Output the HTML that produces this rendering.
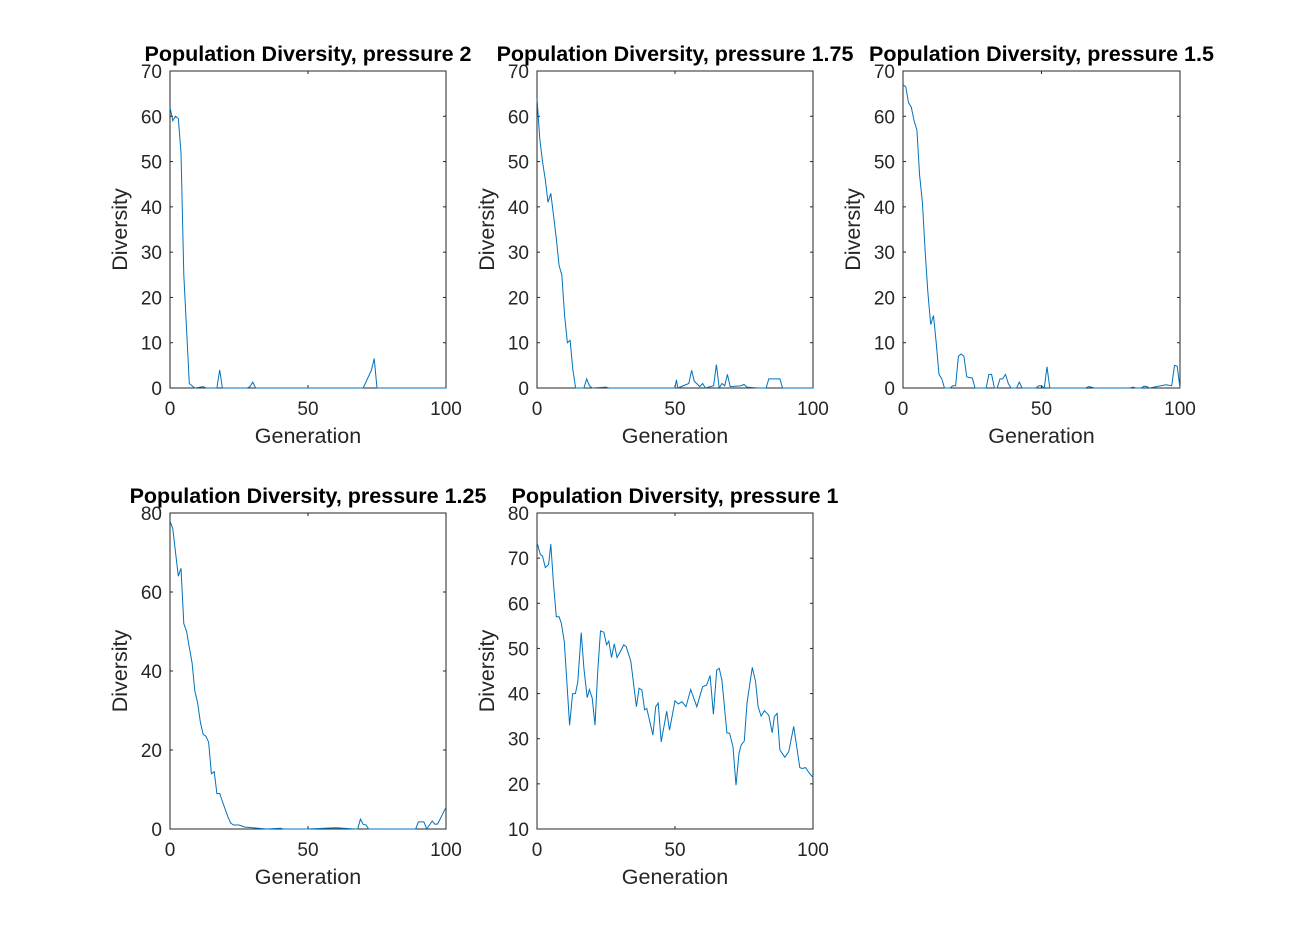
<!DOCTYPE html>
<html><head><meta charset="utf-8"><style>
html,body{margin:0;padding:0;background:#fff}
svg{display:block}
text{font-family:"Liberation Sans",Arial,sans-serif;fill:#262626}
.tk{font-size:19px}
.lab{font-size:21.5px}
.ttl{font-size:21.5px;font-weight:bold;fill:#000}
</style></head><body>
<svg id="fig" width="1306" height="932" viewBox="0 0 1306 932" xmlns="http://www.w3.org/2000/svg"></svg>
<script>
const gen2=[0,1,2,3,4,5,7,9,12,13,17,18,19,28,29,30,31,60,70,73,74,75,100];
const div2=[62,59,60,59.5,52,25,1,0,0.3,0,0,4,0,0,0.3,1.3,0,0,0,4,6.5,0,0];
const gen175=[0,1,2,3,4,5,6,7,8,9,10,11,12,13,14,17,18,19,20,25,26,50,50.5,51,55,56,57,59,60,61,64,65,66,67,68,69,70,74,75,76,80,83,84,88,89,100];
const div175=[64,55,50,46,41,43,38,33,27,25,16,10,10.5,4,0,0,2,0.5,0,0.2,0,0,1.8,0,1,3.9,1.5,0.3,1,0,0.5,5.2,0,1,0.5,3,0.3,0.5,0.8,0.2,0,0,2,2,0,0];
const gen15=[0,1,2,3,4,5,6,7,8,9,10,11,12,13,14,15,17,18,19,20,21,22,23,24,25,26,30,31,32,33,34,35,36,37,38,39,41,42,43,48,49,50,51,52,53,66,67,68,69,82,83,84,86,87,88,89,95,97,98,99,100];
const div15=[67,66.5,63,62,59,57,47,41,30,21,14,16,10,3,2,0,0,0.5,0.5,7,7.5,7,2.5,2.3,2.2,0,0,3,3,0,0,2,2,3,1,0,0,1.3,0,0,0.5,0.5,0,4.7,0,0,0.3,0.2,0,0,0.2,0,0,0.4,0.3,0,0.7,0.5,5,4.8,0];
const gen125=[0,1,3,4,5,6,7,8,9,10,11,12,13,14,15,16,17,18,19,20,21,22,23,25,27,30,35,40,41,50,60,67,68,69,70,71,72,89,90,92,93,95,96,97,100];
const div125=[78,76,64,66,52,50,46,42,35,32,27,24,23.5,22,14,14.5,9,9,7,5,3,1.5,1,1,0.5,0.3,0,0.2,0,0,0.3,0,0,2.5,1.2,1,0,0,1.8,1.8,0,2,1.2,1.3,5.5];
const gen1=[0,1.2,2,3,4.2,5,6,7,8,8.8,9.9,11.8,12.9,13.9,14.8,16,17,18.2,19,20,21,22,23,24.2,25.2,26,27,28,29,30.2,31.4,32.3,34,36,37,38,39,39.8,42,43,43.9,45,47,48,50,51.2,52.5,54,55.7,57.9,60,61.5,62.7,63.9,65.1,66,67,68.8,69.8,71,72.1,73.2,74,75.1,76.1,78,79.2,80.1,81.2,82.4,84,85.2,86,87,88,89.8,91.2,93,95.2,96.1,97.3,98.5,100];
const div1=[73.5,70.8,70.5,67.9,68.6,73.1,64,57,57,55.6,51.5,33,40,40,42.6,53.5,45.6,39.1,40.9,39,33,44.8,53.9,53.6,50.8,51.6,48,51,48,49.3,50.8,50.4,47.2,37.1,41.2,40.8,36.4,36.7,30.8,37.1,37.9,29.3,36.1,31.9,38.4,37.7,38.2,37.1,40.9,37.1,41.5,41.9,44,35.4,45.2,45.6,43,31.3,31.2,28.2,19.7,26.8,28.6,29.5,37.9,45.8,42.6,37.1,35,36.2,35.2,31.3,34.9,35.6,27.5,25.9,27.1,32.7,23.6,23.4,23.6,22.5,21.4];
const xTicks=[0,50,100];
const yTicksA=[0,10,20,30,40,50,60,70];
const yTicksB=[0,20,40,60,80];
const yTicksC=[10,20,30,40,50,60,70,80];

const NS="http://www.w3.org/2000/svg";
const svg=document.getElementById('fig');
function mk(tag,attrs,parent){const e=document.createElementNS(NS,tag);for(const k in attrs)e.setAttribute(k,attrs[k]);(parent||svg).appendChild(e);return e;}

const panels=[
 {t:"Population Diversity, pressure 2",x0:170,x1:446,y0:71,y1:388,ymin:0,ymax:70,yt:yTicksA,g:gen2,v:div2,name:"pressure-2"},
 {t:"Population Diversity, pressure 1.75",x0:537,x1:813,y0:71,y1:388,ymin:0,ymax:70,yt:yTicksA,g:gen175,v:div175,name:"pressure-1-75"},
 {t:"Population Diversity, pressure 1.5",x0:903,x1:1180,y0:71,y1:388,ymin:0,ymax:70,yt:yTicksA,g:gen15,v:div15,name:"pressure-1-5"},
 {t:"Population Diversity, pressure 1.25",x0:170,x1:446,y0:513,y1:829,ymin:0,ymax:80,yt:yTicksB,g:gen125,v:div125,name:"pressure-1-25"},
 {t:"Population Diversity, pressure 1",x0:537,x1:813,y0:513,y1:829,ymin:10,ymax:80,yt:yTicksC,g:gen1,v:div1,name:"pressure-1"}
];
panels.forEach(p=>{
 const g=mk('g',{});
 
 
 const sx=v=>p.x0+(v-0)/(100-0)*(p.x1-p.x0);
 const sy=v=>p.y1-(v-p.ymin)/(p.ymax-p.ymin)*(p.y1-p.y0);
 const box=mk('rect',{x:p.x0,y:p.y0,width:p.x1-p.x0,height:p.y1-p.y0,fill:'#fff',stroke:'#262626','stroke-width':1},g);
 
 
 xTicks.forEach(t=>{
  const x=sx(t);
  mk('line',{x1:x,x2:x,y1:p.y1,y2:p.y1-3,stroke:'#262626'},g);
  mk('line',{x1:x,x2:x,y1:p.y0,y2:p.y0+3,stroke:'#262626'},g);
  const tx=mk('text',{x:x,y:p.y1+27,'text-anchor':'middle',class:'tk'},g);
  tx.textContent=t;
  
  
 });
 p.yt.forEach(t=>{
  const y=sy(t);
  mk('line',{x1:p.x0,x2:p.x0+3,y1:y,y2:y,stroke:'#262626'},g);
  mk('line',{x1:p.x1,x2:p.x1-3,y1:y,y2:y,stroke:'#262626'},g);
  const tx=mk('text',{x:p.x0-8,y:y+7,'text-anchor':'end',class:'tk'},g);
  tx.textContent=t;
  
  
 });
 const d=p.g.map((gv,i)=>(i?'L':'M')+sx(gv).toFixed(1)+','+sy(p.v[i]).toFixed(1)).join('');
 const ln=mk('path',{d:d,fill:'none',stroke:'#0072BD','stroke-width':1},g);
 
 
 const cx=(p.x0+p.x1)/2;
 const tt=mk('text',{x:cx,y:p.y0-10,'text-anchor':'middle',class:'ttl'},g);
 tt.textContent=p.t;
 
 
 const xl=mk('text',{x:cx,y:p.y1+55,'text-anchor':'middle',class:'lab'},g);
 xl.textContent='Generation';
 
 
 const cy=(p.y0+p.y1)/2;
 const yl=mk('text',{x:p.x0-43,y:cy,'text-anchor':'middle',class:'lab',transform:'rotate(-90 '+(p.x0-43)+' '+cy+')'},g);
 yl.textContent='Diversity';
 
 
});
</script>
</body></html>
